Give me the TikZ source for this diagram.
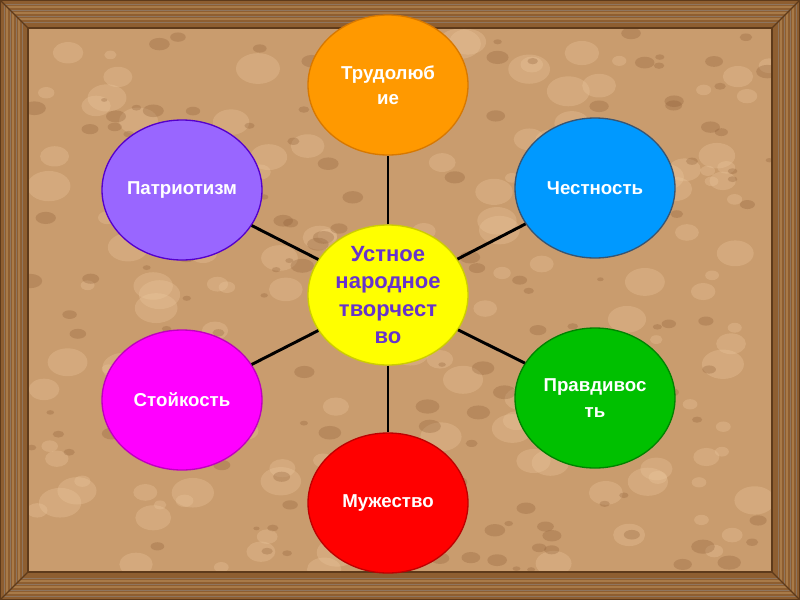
\documentclass[tikz,border=0pt]{standalone}
\usepackage{fontspec}
\setmainfont{Liberation Sans}
\usetikzlibrary{shapes.geometric}

\definecolor{woodD}{HTML}{5E3A1A}
\definecolor{woodM}{HTML}{8E5E30}
\definecolor{woodL}{HTML}{A87A48}
\definecolor{sand}{HTML}{C99C6E}
\definecolor{sandD}{HTML}{8A5A34}
\definecolor{sandL}{HTML}{EECAA0}

\begin{document}
\begin{tikzpicture}[x=0.75pt,y=-0.75pt]
  \def\W{800}   % width
  \def\H{600}   % height
  \def\f{28}    % frame width

  \tikzstyle{bubble}=[ellipse,minimum width=120pt,minimum height=105pt,inner sep=0pt,
    line width=1pt,align=center,text=white,font=\bfseries\fontsize{14}{19}\selectfont]
  \tikzstyle{spoke}=[line width=2.2pt,black]

  \useasboundingbox (0,0) rectangle (\W,\H);

  % WOODEN FRAME
  \fill[woodM] (0,0) rectangle (\W,\H);
  \foreach \k in {4,10,16,22}{
    \draw[woodD!70,line width=0.6pt] (\k,\k) rectangle (\W-\k,\H-\k);
  }
  \foreach \k in {7,13,19}{
    \draw[woodL,line width=0.8pt] (\k,\k) rectangle (\W-\k,\H-\k);
  }
  \draw[woodD,line width=1pt] (0,0) -- (\f,\f) (\W,0) -- (\W-\f,\f)
    (\W,\H) -- (\W-\f,\H-\f) (0,\H) -- (\f,\H-\f);
  \draw[woodD,line width=1.2pt] (0,0) rectangle (\W,\H);

  % SAND BACKGROUND
  \begin{scope}
    \clip (\f,\f) rectangle (\W-\f,\H-\f);
    \fill[sand] (\f,\f) rectangle (\W-\f,\H-\f);
    \pgfmathsetseed{17}
    \foreach \i in {1,...,160}{
      \pgfmathsetmacro{\px}{30+740*rnd}
      \pgfmathsetmacro{\py}{30+540*rnd}
      \pgfmathsetmacro{\pr}{6+16*rnd}
      \fill[sandL,opacity=0.3] (\px,\py) ellipse ({\pr} and {0.7*\pr});
    }
    \foreach \i in {1,...,160}{
      \pgfmathsetmacro{\px}{30+740*rnd}
      \pgfmathsetmacro{\py}{30+540*rnd}
      \pgfmathsetmacro{\pr}{3+9*rnd}
      \fill[sandD,opacity=0.28] (\px,\py) ellipse ({\pr} and {0.6*\pr});
    }
  \end{scope}
  \draw[woodD,line width=1.2pt] (\f,\f) rectangle (\W-\f,\H-\f);

  % BUBBLES
  \node[bubble,fill={rgb,255:red,255;green,255;blue,0},draw={rgb,255:red,205;green,205;blue,0},
    text={rgb,255:red,102;green,51;blue,204},font=\bfseries\fontsize{16.5}{20.5}\selectfont]
    (centre) at (388,295) {Устное\\народное\\творчест\\во};
  \node[bubble,fill={rgb,255:red,255;green,153;blue,0},draw={rgb,255:red,215;green,120;blue,0}]
    (work) at (388,85) {Трудолюб\\ие};
  \node[bubble,fill={rgb,255:red,153;green,102;blue,255},draw={rgb,255:red,85;green,0;blue,204}]
    (patriot) at (182,190) {Патриотизм};
  \node[bubble,fill={rgb,255:red,0;green,153;blue,255},draw={rgb,255:red,55;green,85;blue,115}]
    (honest) at (595,188) {Честность};
  \node[bubble,fill={rgb,255:red,0;green,192;blue,0},draw={rgb,255:red,0;green,130;blue,0}]
    (truth) at (595,398) {Правдивос\\ть};
  \node[bubble,fill={rgb,255:red,255;green,0;blue,255},draw={rgb,255:red,190;green,0;blue,190}]
    (steady) at (182,400) {Стойкость};
  \node[bubble,fill={rgb,255:red,255;green,0;blue,0},draw={rgb,255:red,190;green,0;blue,0}]
    (courage) at (388,503) {Мужество};

  % SPOKES
  \foreach \n in {work,patriot,honest,truth,steady,courage}{
    \draw[spoke] (centre) -- (\n);
  }
\end{tikzpicture}
\end{document}
